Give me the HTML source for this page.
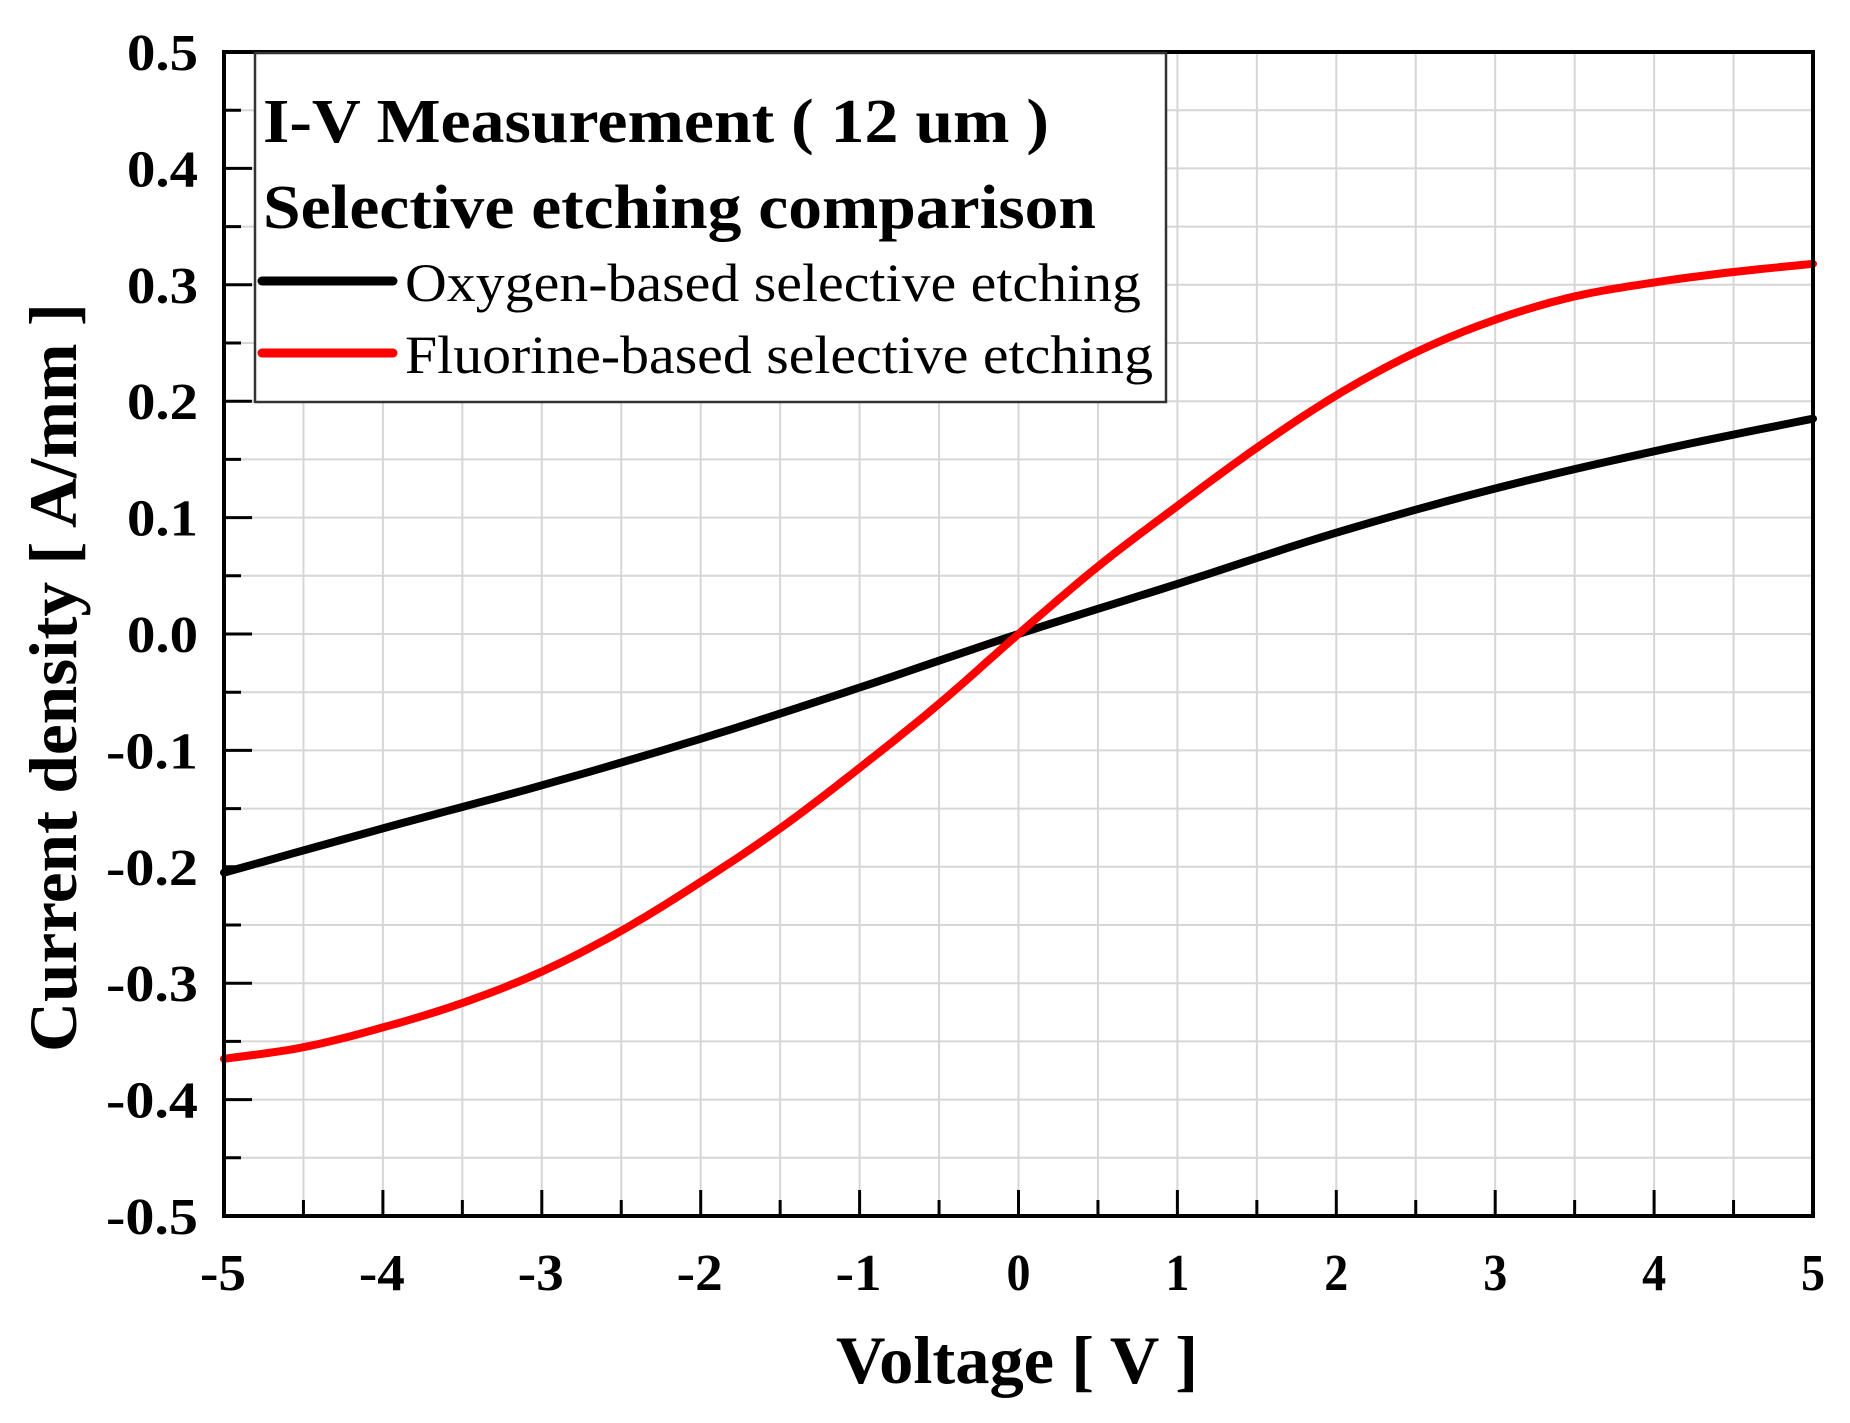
<!DOCTYPE html>
<html><head><meta charset="utf-8"><style>
html,body{margin:0;padding:0;background:#fff;}
svg{display:block;font-family:"Liberation Serif",serif;}
</style></head><body>
<svg id="s" width="1850" height="1423" viewBox="0 0 1850 1423" xmlns="http://www.w3.org/2000/svg">
<g id="grid" stroke="#d6d6d6" stroke-width="2"></g>
<g id="curves" fill="none" stroke-linejoin="round" stroke-linecap="round"></g>
<g id="ticks" stroke="#000" stroke-width="3"></g>
<rect x="224" y="52" width="1589" height="1164" fill="none" stroke="#000" stroke-width="4"/>
<g id="labels" font-weight="bold" font-size="52" fill="#000"></g>
<rect x="255" y="53" width="911" height="349" fill="#fff" stroke="#333" stroke-width="2.5"/>
<text x="263" y="142" font-size="62" font-weight="bold" textLength="786" lengthAdjust="spacingAndGlyphs">I-V Measurement ( 12 um )</text>
<text x="263" y="228" font-size="62" font-weight="bold" textLength="833" lengthAdjust="spacingAndGlyphs">Selective etching comparison</text>
<line x1="262" y1="281" x2="393" y2="281" stroke="#000" stroke-width="9" stroke-linecap="round"/>
<line x1="262" y1="353" x2="393" y2="353" stroke="#ff0000" stroke-width="9" stroke-linecap="round"/>
<text x="405" y="301" font-size="54" textLength="736" lengthAdjust="spacingAndGlyphs">Oxygen-based selective etching</text>
<text x="405" y="373" font-size="54" textLength="748" lengthAdjust="spacingAndGlyphs">Fluorine-based selective etching</text>
<text x="836" y="1383" font-size="68" font-weight="bold" textLength="362" lengthAdjust="spacingAndGlyphs">Voltage [ V ]</text>
<text transform="translate(76,678) rotate(-90)" font-size="68" font-weight="bold" x="-374" textLength="749" lengthAdjust="spacingAndGlyphs">Current density [ A/mm ]</text>
</svg>
<script>
var L=224,R=1813,T=52,B=1216;
function X(v){return L+(v+5)*(R-L)/10;}
function Y(a){return T+(0.5-a)*(B-T)/1.0;}
var ns="http://www.w3.org/2000/svg";
function el(p,t,at){var e=document.createElementNS(ns,t);for(var k in at)e.setAttribute(k,at[k]);document.getElementById(p).appendChild(e);return e;}
for(var i=1;i<20;i++){var x=X(-5+i*0.5);el("grid","line",{x1:x,y1:T,x2:x,y2:B});}
for(var i=1;i<20;i++){var y=Y(0.5-i*0.05);el("grid","line",{x1:L,y1:y,x2:R,y2:y});}
for(var i=0;i<=20;i++){var x=X(-5+i*0.5),len=(i%2==0)?26:16;el("ticks","line",{x1:x,y1:B,x2:x,y2:B-len});}
for(var i=0;i<=20;i++){var y=Y(0.5-i*0.05),len=(i%2==0)?28:17;el("ticks","line",{x1:L,y1:y,x2:L+len,y2:y});}
for(var i=0;i<=10;i++){var v=-5+i;var s=String(v);var t=el("labels","text",{x:X(v)-(v<0?24:12),y:1290,textLength:(v<0?46:24),lengthAdjust:"spacingAndGlyphs"});t.textContent=s;}
for(var i=0;i<=10;i++){var a=0.5-i*0.1;var neg=a<-1e-9;var w=neg?92:71;var t=el("labels","text",{x:198-w,y:Y(a)+18,textLength:w,lengthAdjust:"spacingAndGlyphs"});t.textContent=(Math.abs(a)<1e-9?"0.0":a.toFixed(1));}
function path(pts){var d="M"+X(pts[0][0])+","+Y(pts[0][1]);
for(var i=0;i<pts.length-1;i++){var p0=pts[Math.max(0,i-1)],p1=pts[i],p2=pts[i+1],p3=pts[Math.min(pts.length-1,i+2)];
for(var s=1;s<=10;s++){var t=s/10,t2=t*t,t3=t2*t;
function cr(a,b,c,e){return 0.5*((2*b)+(-a+c)*t+(2*a-5*b+4*c-e)*t2+(-a+3*b-3*c+e)*t3);}
d+=" L"+X(cr(p0[0],p1[0],p2[0],p3[0])).toFixed(1)+","+Y(cr(p0[1],p1[1],p2[1],p3[1])).toFixed(1);}}
return d;}
var blk=[[-5,-0.205],[-4,-0.167],[-3,-0.13],[-2,-0.09],[-1,-0.046],[0,0],[1,0.043],[2,0.087],[3,0.125],[4,0.157],[5,0.185]];
var red=[[-5,-0.365],[-4.5,-0.355],[-4,-0.338],[-3.5,-0.317],[-3,-0.29],[-2.5,-0.255],[-2,-0.213],[-1.5,-0.167],[-1,-0.115],[-0.5,-0.06],[0,0],[0.5,0.058],[1,0.11],[1.5,0.16],[2,0.205],[2.5,0.242],[3,0.27],[3.5,0.29],[4,0.302],[4.5,0.311],[5,0.318]];
el("curves","path",{d:path(blk),stroke:"#000","stroke-width":8});
el("curves","path",{d:path(red),stroke:"#ff0000","stroke-width":8});
</script>
</body></html>
